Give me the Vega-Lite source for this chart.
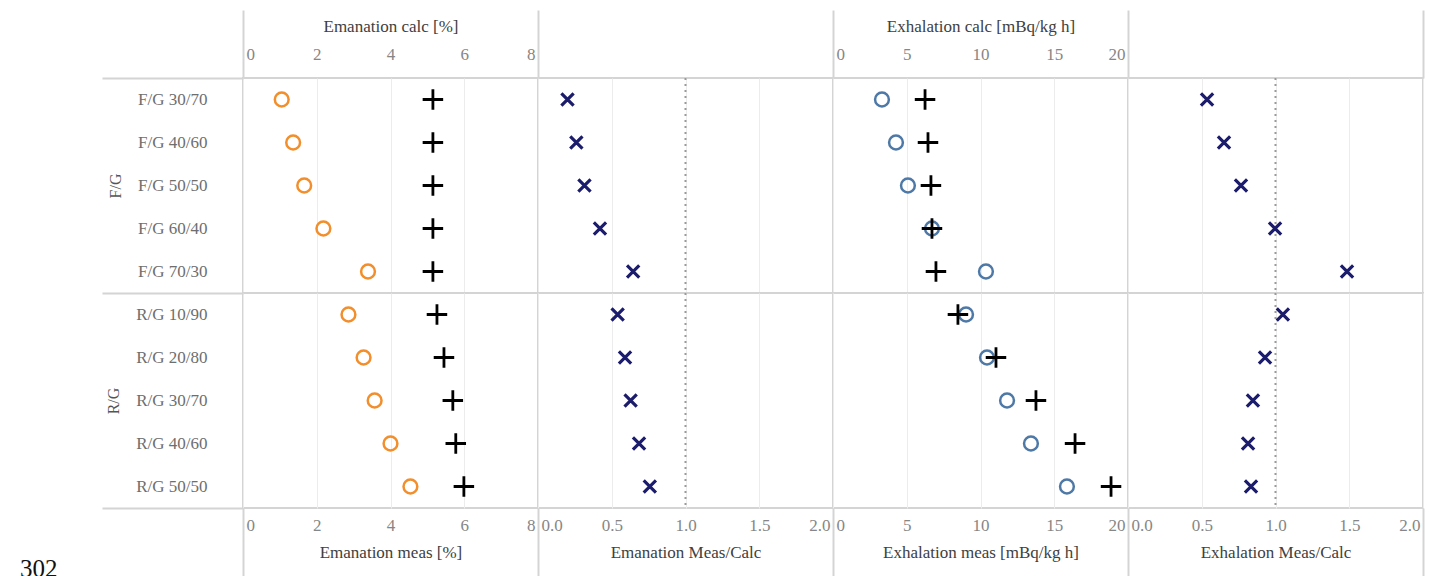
{
  "$schema": "https://vega.github.io/schema/vega-lite/v6.json",
  "padding": {"left": 20, "top": 8, "right": 0, "bottom": 0},
  "data": {
    "values": [
      {"group": "F/G", "label": "F/G 30/70", "em_meas": 1.05, "em_calc": 5.15, "em_ratio": 0.20, "ex_meas": 3.32, "ex_calc": 6.24, "ex_ratio": 0.536},
      {"group": "F/G", "label": "F/G 40/60", "em_meas": 1.36, "em_calc": 5.15, "em_ratio": 0.26, "ex_meas": 4.27, "ex_calc": 6.44, "ex_ratio": 0.651},
      {"group": "F/G", "label": "F/G 50/50", "em_meas": 1.66, "em_calc": 5.15, "em_ratio": 0.315, "ex_meas": 5.08, "ex_calc": 6.64, "ex_ratio": 0.766},
      {"group": "F/G", "label": "F/G 60/40", "em_meas": 2.18, "em_calc": 5.15, "em_ratio": 0.42, "ex_meas": 6.71, "ex_calc": 6.71, "ex_ratio": 0.997},
      {"group": "F/G", "label": "F/G 70/30", "em_meas": 3.39, "em_calc": 5.15, "em_ratio": 0.645, "ex_meas": 10.37, "ex_calc": 6.98, "ex_ratio": 1.485},
      {"group": "R/G", "label": "R/G 10/90", "em_meas": 2.86, "em_calc": 5.26, "em_ratio": 0.54, "ex_meas": 9.02, "ex_calc": 8.47, "ex_ratio": 1.05},
      {"group": "R/G", "label": "R/G 20/80", "em_meas": 3.27, "em_calc": 5.45, "em_ratio": 0.59, "ex_meas": 10.44, "ex_calc": 11.05, "ex_ratio": 0.929},
      {"group": "R/G", "label": "R/G 30/70", "em_meas": 3.57, "em_calc": 5.69, "em_ratio": 0.628, "ex_meas": 11.8, "ex_calc": 13.76, "ex_ratio": 0.847},
      {"group": "R/G", "label": "R/G 40/60", "em_meas": 4.0, "em_calc": 5.77, "em_ratio": 0.685, "ex_meas": 13.42, "ex_calc": 16.41, "ex_ratio": 0.814},
      {"group": "R/G", "label": "R/G 50/50", "em_meas": 4.54, "em_calc": 5.99, "em_ratio": 0.758, "ex_meas": 15.86, "ex_calc": 18.85, "ex_ratio": 0.834}
    ]
  },
  "title": {
    "text": "302",
    "orient": "bottom",
    "anchor": "start",
    "frame": "bounds",
    "font": "Liberation Serif",
    "fontSize": 25,
    "fontWeight": "normal",
    "color": "#111111",
    "dx": -80,
    "offset": -23
  },
  "columns": 4,
  "spacing": 0,
  "bounds": "flush",
  "concat": [
    {
      "width": 295,
      "height": 215,
      "resolve": {"axis": {"x": "independent", "y": "independent"}},
      "layer": [
        {
          "transform": [{"filter": "datum.group === 'F/G'"}],
          "mark": {"type": "point", "shape": "circle", "filled": false, "opacity": 1, "size": 190, "strokeWidth": 2.5, "color": "#f28e2b"},
          "encoding": {
            "y": {"field": "label", "type": "nominal", "scale": {"type": "band", "paddingInner": 0, "paddingOuter": 0, "domain": ["F/G 30/70", "F/G 40/60", "F/G 50/50", "F/G 60/40", "F/G 70/30"]},
              "axis": {"orient": "left", "title": "F/G", "labelColor": "#6e6e6e", "labelFontSize": 17, "labelPadding": 36, "titlePadding": 14, "titleColor": "#555555", "titleFontSize": 16}},
            "x": {"field": "em_meas", "type": "quantitative", "scale": {"domain": [0, 8], "nice": false},
              "axis": {"orient": "top", "title": "Emanation calc [%]", "values": [0, 2, 4, 6, 8], "format": "d", "grid": true, "labelFlush": true, "labelFlushOffset": -3, "labelPadding": 15, "titlePadding": 10}}
          }
        },
        {
          "transform": [{"filter": "datum.group === 'F/G'"}],
          "mark": {"type": "point", "shape": "M-1,0L1,0M0,-1L0,1", "filled": false, "opacity": 1, "size": 420, "strokeWidth": 2.8, "color": "#000000"},
          "encoding": {
            "y": {"field": "label", "type": "nominal", "scale": {"type": "band", "paddingInner": 0, "paddingOuter": 0, "domain": ["F/G 30/70", "F/G 40/60", "F/G 50/50", "F/G 60/40", "F/G 70/30"]},
              "axis": {"orient": "left", "values": ["F/G 30/70"], "bandPosition": 0, "labels": false, "ticks": true, "tickSize": 141, "grid": false, "title": null}},
            "x": {"field": "em_calc", "type": "quantitative", "scale": {"domain": [0, 8], "nice": false},
              "axis": {"orient": "top", "values": [0], "labels": false, "ticks": true, "tickSize": 68, "grid": false, "title": null}}
          }
        }
      ]
    },
    {
      "width": 295,
      "height": 215,
      "resolve": {"axis": {"x": "independent"}},
      "layer": [
        {
          "data": {"values": [{"ref": 1}]},
          "mark": {"type": "rule", "strokeDash": [2, 4], "color": "#9a9a9a", "strokeWidth": 2},
          "encoding": {
            "x": {"field": "ref", "type": "quantitative", "scale": {"domain": [0, 2], "nice": false},
              "axis": {"orient": "top", "values": [0], "labels": false, "ticks": true, "tickSize": 68, "grid": false, "title": null}}
          }
        },
        {
          "transform": [{"filter": "datum.group === 'F/G'"}],
          "mark": {"type": "point", "shape": "M-1,-1L1,1M-1,1L1,-1", "filled": false, "opacity": 1, "size": 150, "strokeWidth": 3.2, "color": "#1c1c6c"},
          "encoding": {
            "y": {"field": "label", "type": "nominal", "scale": {"type": "band", "paddingInner": 0, "paddingOuter": 0, "domain": ["F/G 30/70", "F/G 40/60", "F/G 50/50", "F/G 60/40", "F/G 70/30"]}, "axis": null},
            "x": {"field": "em_ratio", "type": "quantitative", "scale": {"domain": [0, 2], "nice": false},
              "axis": {"orient": "top", "values": [0, 0.5, 1, 1.5, 2], "labels": false, "grid": true, "title": null}}
          }
        }
      ]
    },
    {
      "width": 295,
      "height": 215,
      "resolve": {"axis": {"x": "independent"}},
      "layer": [
        {
          "transform": [{"filter": "datum.group === 'F/G'"}],
          "mark": {"type": "point", "shape": "circle", "filled": false, "opacity": 1, "size": 190, "strokeWidth": 2.5, "color": "#4e79a7"},
          "encoding": {
            "y": {"field": "label", "type": "nominal", "scale": {"type": "band", "paddingInner": 0, "paddingOuter": 0, "domain": ["F/G 30/70", "F/G 40/60", "F/G 50/50", "F/G 60/40", "F/G 70/30"]}, "axis": null},
            "x": {"field": "ex_meas", "type": "quantitative", "scale": {"domain": [0, 20], "nice": false},
              "axis": {"orient": "top", "title": "Exhalation calc [mBq/kg h]", "values": [0, 5, 10, 15, 20], "format": "d", "grid": true, "labelFlush": true, "labelFlushOffset": -3, "labelPadding": 15, "titlePadding": 10}}
          }
        },
        {
          "transform": [{"filter": "datum.group === 'F/G'"}],
          "mark": {"type": "point", "shape": "M-1,0L1,0M0,-1L0,1", "filled": false, "opacity": 1, "size": 420, "strokeWidth": 2.8, "color": "#000000"},
          "encoding": {
            "y": {"field": "label", "type": "nominal", "scale": {"type": "band", "paddingInner": 0, "paddingOuter": 0, "domain": ["F/G 30/70", "F/G 40/60", "F/G 50/50", "F/G 60/40", "F/G 70/30"]}, "axis": null},
            "x": {"field": "ex_calc", "type": "quantitative", "scale": {"domain": [0, 20], "nice": false},
              "axis": {"orient": "top", "values": [0], "labels": false, "ticks": true, "tickSize": 68, "grid": false, "title": null}}
          }
        }
      ]
    },
    {
      "width": 295,
      "height": 215,
      "resolve": {"axis": {"x": "independent"}},
      "layer": [
        {
          "data": {"values": [{"ref": 1}]},
          "mark": {"type": "rule", "strokeDash": [2, 4], "color": "#9a9a9a", "strokeWidth": 2},
          "encoding": {
            "x": {"field": "ref", "type": "quantitative", "scale": {"domain": [0, 2], "nice": false},
              "axis": {"orient": "top", "values": [0, 2], "labels": false, "ticks": true, "tickSize": 68, "grid": false, "title": null}}
          }
        },
        {
          "transform": [{"filter": "datum.group === 'F/G'"}],
          "mark": {"type": "point", "shape": "M-1,-1L1,1M-1,1L1,-1", "filled": false, "opacity": 1, "size": 150, "strokeWidth": 3.2, "color": "#1c1c6c"},
          "encoding": {
            "y": {"field": "label", "type": "nominal", "scale": {"type": "band", "paddingInner": 0, "paddingOuter": 0, "domain": ["F/G 30/70", "F/G 40/60", "F/G 50/50", "F/G 60/40", "F/G 70/30"]}, "axis": null},
            "x": {"field": "ex_ratio", "type": "quantitative", "scale": {"domain": [0, 2], "nice": false},
              "axis": {"orient": "top", "values": [0, 0.5, 1, 1.5, 2], "labels": false, "grid": true, "title": null}}
          }
        }
      ]
    },
    {
      "width": 295,
      "height": 215,
      "resolve": {"axis": {"x": "independent", "y": "independent"}},
      "layer": [
        {
          "transform": [{"filter": "datum.group === 'R/G'"}],
          "mark": {"type": "point", "shape": "circle", "filled": false, "opacity": 1, "size": 190, "strokeWidth": 2.5, "color": "#f28e2b"},
          "encoding": {
            "y": {"field": "label", "type": "nominal", "scale": {"type": "band", "paddingInner": 0, "paddingOuter": 0, "domain": ["R/G 10/90", "R/G 20/80", "R/G 30/70", "R/G 40/60", "R/G 50/50"]},
              "axis": {"orient": "left", "title": "R/G", "labelColor": "#6e6e6e", "labelFontSize": 17, "labelPadding": 36, "titlePadding": 14, "titleColor": "#555555", "titleFontSize": 16}},
            "x": {"field": "em_meas", "type": "quantitative", "scale": {"domain": [0, 8], "nice": false},
              "axis": {"orient": "bottom", "title": "Emanation meas [%]", "values": [0, 2, 4, 6, 8], "format": "d", "grid": true, "labelFlush": true, "labelFlushOffset": -3, "labelPadding": 9, "titlePadding": 11}}
          }
        },
        {
          "transform": [{"filter": "datum.group === 'R/G'"}],
          "mark": {"type": "point", "shape": "M-1,0L1,0M0,-1L0,1", "filled": false, "opacity": 1, "size": 420, "strokeWidth": 2.8, "color": "#000000"},
          "encoding": {
            "y": {"field": "label", "type": "nominal", "scale": {"type": "band", "paddingInner": 0, "paddingOuter": 0, "domain": ["R/G 10/90", "R/G 20/80", "R/G 30/70", "R/G 40/60", "R/G 50/50"]},
              "axis": {"orient": "left", "values": ["R/G 10/90"], "bandPosition": 0, "labels": false, "ticks": true, "tickSize": 141, "grid": false, "title": null}},
            "x": {"field": "em_calc", "type": "quantitative", "scale": {"domain": [0, 8], "nice": false},
              "axis": {"orient": "bottom", "values": [0], "labels": false, "ticks": true, "tickSize": 70, "grid": false, "title": null}}
          }
        },
        {
          "transform": [{"filter": "datum.group === 'R/G'"}],
          "mark": {"type": "point", "opacity": 0},
          "encoding": {
            "y": {"field": "label", "type": "nominal", "scale": {"type": "band", "paddingInner": 0, "paddingOuter": 0, "domain": ["R/G 10/90", "R/G 20/80", "R/G 30/70", "R/G 40/60", "R/G 50/50"]},
              "axis": {"orient": "left", "values": ["R/G 50/50"], "bandPosition": 1, "labels": false, "ticks": true, "tickSize": 141, "grid": false, "title": null}},
            "x": {"field": "em_calc", "type": "quantitative", "scale": {"domain": [0, 8], "nice": false}, "axis": null}
          }
        }
      ]
    },
    {
      "width": 295,
      "height": 215,
      "resolve": {"axis": {"x": "independent"}},
      "layer": [
        {
          "data": {"values": [{"ref": 1}]},
          "mark": {"type": "rule", "strokeDash": [2, 4], "color": "#9a9a9a", "strokeWidth": 2},
          "encoding": {
            "x": {"field": "ref", "type": "quantitative", "scale": {"domain": [0, 2], "nice": false},
              "axis": {"orient": "bottom", "values": [0], "labels": false, "ticks": true, "tickSize": 70, "grid": false, "title": null}}
          }
        },
        {
          "transform": [{"filter": "datum.group === 'R/G'"}],
          "mark": {"type": "point", "shape": "M-1,-1L1,1M-1,1L1,-1", "filled": false, "opacity": 1, "size": 150, "strokeWidth": 3.2, "color": "#1c1c6c"},
          "encoding": {
            "y": {"field": "label", "type": "nominal", "scale": {"type": "band", "paddingInner": 0, "paddingOuter": 0, "domain": ["R/G 10/90", "R/G 20/80", "R/G 30/70", "R/G 40/60", "R/G 50/50"]}, "axis": null},
            "x": {"field": "em_ratio", "type": "quantitative", "scale": {"domain": [0, 2], "nice": false},
              "axis": {"orient": "bottom", "title": "Emanation Meas/Calc", "values": [0, 0.5, 1, 1.5, 2], "format": ".1f", "grid": true, "labelFlush": true, "labelFlushOffset": -3, "labelPadding": 9, "titlePadding": 11}}
          }
        }
      ]
    },
    {
      "width": 295,
      "height": 215,
      "resolve": {"axis": {"x": "independent"}},
      "layer": [
        {
          "transform": [{"filter": "datum.group === 'R/G'"}],
          "mark": {"type": "point", "shape": "circle", "filled": false, "opacity": 1, "size": 190, "strokeWidth": 2.5, "color": "#4e79a7"},
          "encoding": {
            "y": {"field": "label", "type": "nominal", "scale": {"type": "band", "paddingInner": 0, "paddingOuter": 0, "domain": ["R/G 10/90", "R/G 20/80", "R/G 30/70", "R/G 40/60", "R/G 50/50"]}, "axis": null},
            "x": {"field": "ex_meas", "type": "quantitative", "scale": {"domain": [0, 20], "nice": false},
              "axis": {"orient": "bottom", "title": "Exhalation meas [mBq/kg h]", "values": [0, 5, 10, 15, 20], "format": "d", "grid": true, "labelFlush": true, "labelFlushOffset": -3, "labelPadding": 9, "titlePadding": 11}}
          }
        },
        {
          "transform": [{"filter": "datum.group === 'R/G'"}],
          "mark": {"type": "point", "shape": "M-1,0L1,0M0,-1L0,1", "filled": false, "opacity": 1, "size": 420, "strokeWidth": 2.8, "color": "#000000"},
          "encoding": {
            "y": {"field": "label", "type": "nominal", "scale": {"type": "band", "paddingInner": 0, "paddingOuter": 0, "domain": ["R/G 10/90", "R/G 20/80", "R/G 30/70", "R/G 40/60", "R/G 50/50"]}, "axis": null},
            "x": {"field": "ex_calc", "type": "quantitative", "scale": {"domain": [0, 20], "nice": false},
              "axis": {"orient": "bottom", "values": [0], "labels": false, "ticks": true, "tickSize": 70, "grid": false, "title": null}}
          }
        }
      ]
    },
    {
      "width": 295,
      "height": 215,
      "resolve": {"axis": {"x": "independent"}},
      "layer": [
        {
          "data": {"values": [{"ref": 1}]},
          "mark": {"type": "rule", "strokeDash": [2, 4], "color": "#9a9a9a", "strokeWidth": 2},
          "encoding": {
            "x": {"field": "ref", "type": "quantitative", "scale": {"domain": [0, 2], "nice": false},
              "axis": {"orient": "bottom", "values": [0, 2], "labels": false, "ticks": true, "tickSize": 70, "grid": false, "title": null}}
          }
        },
        {
          "transform": [{"filter": "datum.group === 'R/G'"}],
          "mark": {"type": "point", "shape": "M-1,-1L1,1M-1,1L1,-1", "filled": false, "opacity": 1, "size": 150, "strokeWidth": 3.2, "color": "#1c1c6c"},
          "encoding": {
            "y": {"field": "label", "type": "nominal", "scale": {"type": "band", "paddingInner": 0, "paddingOuter": 0, "domain": ["R/G 10/90", "R/G 20/80", "R/G 30/70", "R/G 40/60", "R/G 50/50"]}, "axis": null},
            "x": {"field": "ex_ratio", "type": "quantitative", "scale": {"domain": [0, 2], "nice": false},
              "axis": {"orient": "bottom", "title": "Exhalation Meas/Calc", "values": [0, 0.5, 1, 1.5, 2], "format": ".1f", "grid": true, "labelFlush": true, "labelFlushOffset": -3, "labelPadding": 9, "titlePadding": 11}}
          }
        }
      ]
    }
  ],
  "config": {
    "font": "Liberation Serif",
    "view": {"stroke": "#d4d4d4", "strokeWidth": 2},
    "axis": {
      "labelFont": "Liberation Serif",
      "titleFont": "Liberation Serif",
      "labelFontSize": 17,
      "titleFontSize": 17,
      "titleFontWeight": "normal",
      "labelColor": "#868686",
      "titleColor": "#404040",
      "gridColor": "#ececec",
      "gridWidth": 1,
      "tickColor": "#d4d4d4",
      "tickWidth": 2,
      "domain": false,
      "ticks": false
    }
  }
}
